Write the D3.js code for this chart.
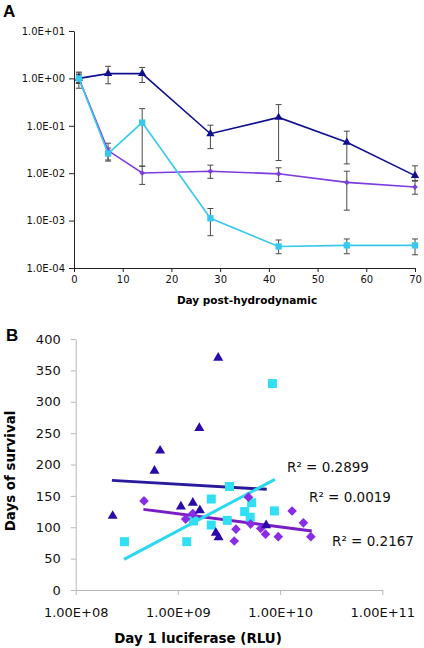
<!DOCTYPE html>
<html><head><meta charset="utf-8">
<script src="https://cdn.jsdelivr.net/npm/d3@7"></script>
<style>html,body{margin:0;padding:0;background:#fff;}svg{display:block;font-family:"DejaVu Sans",Verdana,sans-serif;}</style>
</head><body>
<script>
// ---------- Panel A data ----------
const daysA = [1, 7, 14, 28, 42, 56, 70];
const xTicksA = [0, 10, 20, 30, 40, 50, 60, 70];
const yTicksA = [10, 1, 0.1, 0.01, 0.001, 0.0001];
const yTickLabelsA = ["1.0E+01", "1.0E+00", "1.0E-01", "1.0E-02", "1.0E-03", "1.0E-04"];
const navyMean = [1.0, 1.26, 1.26, 0.068, 0.15, 0.045, 0.0089];
const navyLo   = [0.78, 0.77, 0.82, 0.033, 0.0185, 0.0157, 0.007];
const navyHi   = [1.3, 1.8, 1.7, 0.103, 0.28, 0.077, 0.0143];
const violetMean = [1.0, 0.030, 0.0101, 0.011, 0.0097, 0.0064, 0.0051];
const violetLo   = [0.62, 0.018, 0.0058, 0.0078, 0.0067, 0.00166, 0.0036];
const violetHi   = [1.36, 0.043, 0.0141, 0.0148, 0.013, 0.011, 0.0068];
const cyanMean = [1.0, 0.026, 0.117, 0.00112, 0.000285, 0.0003, 0.0003];
const cyanLo   = [0.82, 0.019, 0.014, 0.00048, 0.0002, 0.0002, 0.00019];
const cyanHi   = [1.2, 0.034, 0.23, 0.0018, 0.00039, 0.00041, 0.00041];

// ---------- Panel B data ----------
const xTicksB = [1e8, 1e9, 1e10, 1e11];
const xTickLabelsB = ["1.00E+08", "1.00E+09", "1.00E+10", "1.00E+11"];
const yTicksB = [0, 50, 100, 150, 200, 250, 300, 350, 400];
const triRLU  = [2.3e8, 5.9e8, 6.7e8, 1.07e9, 1.4e9, 1.64e9, 1.62e9, 2.48e9, 2.35e9, 2.5e9, 7.3e9];
const triDays = [118, 190, 222, 133, 139, 127, 258, 370, 91, 84, 103];
const diaRLU  = [4.66e8, 1.19e9, 1.4e9, 3.56e9, 3.7e9, 4.9e9, 5.15e9, 6.45e9, 7.2e9, 9.6e9, 1.31e10, 1.69e10, 2.0e10];
const diaDays = [142, 113, 122, 78, 97, 148, 105, 98, 89, 85, 126, 107, 85];
const sqRLU  = [3.0e8, 1.22e9, 1.42e9, 2.12e9, 2.12e9, 3.2e9, 3.04e9, 4.5e9, 5.27e9, 5.1e9, 8.8e9, 8.4e9];
const sqDays = [77, 77, 110, 145, 103.5, 165, 111, 125, 139, 116, 126, 329];
// trend line end points
const triTrendX = [2.26e8, 7.4e9],  triTrendY = [174.7, 160.4];
const diaTrendX = [4.6e8, 2.04e10], diaTrendY = [128.5, 94];
const sqTrendX  = [2.97e8, 8.9e9],  sqTrendY  = [48.9, 176.3];
const r2Labels = ["R² = 0.2899", "R² = 0.0019", "R² = 0.2167"];

const svg = d3.select("body").append("svg").attr("width", 424).attr("height", 648);

// ================= Panel A =================
const xA = d3.scaleLinear().domain([0, 70]).range([74, 415]);
const yA = d3.scaleLog().domain([1e-4, 10]).range([268, 31]);

svg.append("text").attr("x", 3).attr("y", 17).attr("font-family", "Liberation Sans, Arial, sans-serif")
  .attr("font-weight", "bold").attr("font-size", 17).text("A");

const gAx = svg.append("g").attr("transform", "translate(0,268)")
  .call(d3.axisBottom(xA).tickValues(xTicksA).tickSize(4).tickSizeOuter(0).tickPadding(4));
gAx.selectAll("text").attr("font-size", 10).attr("fill", "#111").attr("font-family", "DejaVu Sans");
gAx.selectAll("line,path").attr("stroke", "#222");

const gAy = svg.append("g").attr("transform", "translate(74,0)")
  .call(d3.axisLeft(yA).tickValues(yTicksA).tickFormat((d, i) => yTickLabelsA[i]).tickSize(5).tickSizeOuter(0).tickPadding(4));
gAy.selectAll("text").attr("font-size", 10).attr("fill", "#111").attr("font-family", "DejaVu Sans");
gAy.selectAll("line,path").attr("stroke", "#222");

svg.append("text").attr("x", 247).attr("y", 304).attr("text-anchor", "middle")
  .attr("font-weight", "bold").attr("font-size", 10.5).text("Day post-hydrodynamic");

const seriesA = [
  {mean: navyMean, lo: navyLo, hi: navyHi, color: "#10108f", sym: d3.symbolTriangle, size: 30, rot: 0},
  {mean: violetMean, lo: violetLo, hi: violetHi, color: "#7d3be0", sym: d3.symbolSquare, size: 16, rot: 45},
  {mean: cyanMean, lo: cyanLo, hi: cyanHi, color: "#38c8ee", sym: d3.symbolSquare, size: 40, rot: 0}
];
const lineA = d3.line().x((d, i) => xA(daysA[i])).y(d => yA(d));
// error bars
seriesA.forEach(s => {
  const g = svg.append("g").attr("stroke", "#4a4a4a").attr("stroke-width", 1);
  daysA.forEach((d, i) => {
    const x = xA(d);
    g.append("line").attr("x1", x).attr("x2", x).attr("y1", yA(s.lo[i])).attr("y2", yA(s.hi[i]));
    g.append("line").attr("x1", x - 3).attr("x2", x + 3).attr("y1", yA(s.lo[i])).attr("y2", yA(s.lo[i]));
    g.append("line").attr("x1", x - 3).attr("x2", x + 3).attr("y1", yA(s.hi[i])).attr("y2", yA(s.hi[i]));
  });
});
seriesA.forEach(s => {
  svg.append("path").datum(s.mean).attr("d", lineA).attr("fill", "none")
    .attr("stroke", s.color).attr("stroke-width", 1.6);
  svg.append("g").selectAll("path").data(s.mean).join("path")
    .attr("d", d3.symbol().type(s.sym).size(s.size))
    .attr("transform", (d, i) => `translate(${xA(daysA[i])},${yA(d)}) rotate(${s.rot})`)
    .attr("fill", s.color);
});

// ================= Panel B =================
const xB = d3.scaleLog().domain([1e8, 1e11]).range([75.7, 382.3]);
const yB = d3.scaleLinear().domain([0, 400]).range([590, 339]);

svg.append("text").attr("x", 6).attr("y", 341).attr("font-family", "Liberation Sans, Arial, sans-serif")
  .attr("font-weight", "bold").attr("font-size", 17).text("B");

const gBx = svg.append("g").attr("transform", "translate(0,590)")
  .call(d3.axisBottom(xB).tickValues(xTicksB).tickFormat((d, i) => xTickLabelsB[i]).tickSize(5).tickSizeOuter(0).tickPadding(13));
gBx.selectAll("text").attr("font-size", 13).attr("fill", "#111").attr("font-family", "DejaVu Sans");
gBx.selectAll("line,path").attr("stroke", "#b8b8b8");

const gBy = svg.append("g").attr("transform", "translate(75.7,0)")
  .call(d3.axisLeft(yB).tickValues(yTicksB).tickSize(5).tickSizeOuter(0).tickPadding(10));
gBy.selectAll("text").attr("font-size", 13).attr("fill", "#111").attr("font-family", "DejaVu Sans");
gBy.selectAll("line,path").attr("stroke", "#b8b8b8");

svg.append("text").attr("x", 198).attr("y", 643).attr("text-anchor", "middle")
  .attr("font-weight", "bold").attr("font-size", 13.4).text("Day 1 luciferase (RLU)");
svg.append("text").attr("transform", "translate(15,471) rotate(-90)").attr("text-anchor", "middle")
  .attr("font-weight", "bold").attr("font-size", 13.4).text("Days of survival");

const trends = [
  {x: triTrendX, y: triTrendY, color: "#2a1a9c"},
  {x: diaTrendX, y: diaTrendY, color: "#7a1ec4"},
  {x: sqTrendX, y: sqTrendY, color: "#2cd8ee"}
];
const lineB = d3.line().x(d => xB(d[0])).y(d => yB(d[1]));
trends.forEach(t => {
  svg.append("path").datum(t.x.map((v, i) => [v, t.y[i]])).attr("d", lineB)
    .attr("fill", "none").attr("stroke", t.color).attr("stroke-width", 3);
});

const seriesB = [
  {x: sqRLU, y: sqDays, color: "#30e0f2", sym: d3.symbolSquare, size: 81, rot: 0},
  {x: diaRLU, y: diaDays, color: "#8a2be6", sym: d3.symbolSquare, size: 46, rot: 45},
  {x: triRLU, y: triDays, color: "#2a0aa8", sym: d3.symbolTriangle, size: 44, rot: 0}
];
seriesB.forEach(s => {
  svg.append("g").selectAll("path").data(s.x).join("path")
    .attr("d", d3.symbol().type(s.sym).size(s.size))
    .attr("transform", (d, i) => `translate(${xB(d)},${yB(s.y[i])}) rotate(${s.rot})`)
    .attr("fill", s.color);
});

const r2Pos = [[287, 472], [309, 502], [332, 546]];
svg.append("g").selectAll("text").data(r2Labels).join("text")
  .attr("x", (d, i) => r2Pos[i][0]).attr("y", (d, i) => r2Pos[i][1])
  .attr("font-size", 13.5).attr("fill", "#111").text(d => d);
</script>
</body></html>
